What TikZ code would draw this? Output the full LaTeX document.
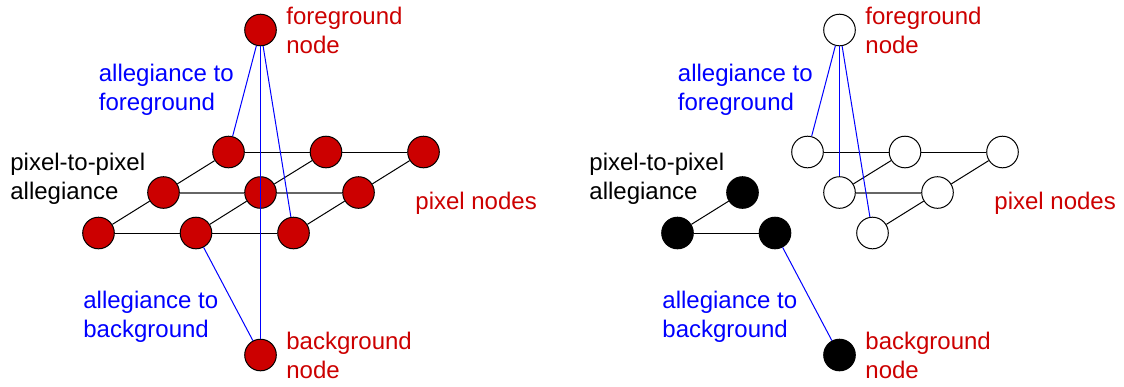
\documentclass[tikz,border=0pt]{standalone}
\usepackage{fontspec}
\setmainfont{Liberation Sans}
\usetikzlibrary{positioning}
\definecolor{nodered}{RGB}{204,0,0}
\definecolor{tieblue}{RGB}{0,0,255}
\tikzset{
	pix/.style={circle, draw=black, line width=0.5pt, minimum size=15.8pt, inner sep=0pt, fill=nodered},
	pixwhite/.style={pix, fill=white},
	pixblack/.style={pix, fill=black},
	link/.style={line width=0.5pt, black},
	midlink/.style={line width=1pt, black!60},
	tie/.style={line width=0.5pt, tieblue},
	txt/.style={anchor=base west, align=left, inner sep=0pt, font=\fontsize{12}{14.3}\selectfont},
	redtxt/.style={txt, text=nodered},
	bluetxt/.style={txt, text=tieblue},
	blacktxt/.style={txt, text=black}
}

\begin{document}
\begin{tikzpicture}[x=0.5pt, y=-0.5pt]
			%%%%% START %%%%%
			\useasboundingbox (0, 0) rectangle (1124, 386);
			
			%%%%% left: full graph %%%%%
			\node[pix] (lfg) at (260.5, 30) {};
			\node[pix] (lbg) at (260.5, 355) {};
			
			\node[pix] (l11) at (228.5, 152) {};
			\node[pix] (l12) at (326, 152) {};
			\node[pix] (l13) at (423.5, 152) {};
			\node[pix] (l21) at (163.5, 192.5) {};
			\node[pix] (l22) at (260.5, 192.5) {};
			\node[pix] (l23) at (358.5, 192.5) {};
			\node[pix] (l31) at (98.5, 233) {};
			\node[pix] (l32) at (196, 233) {};
			\node[pix] (l33) at (293.5, 233) {};
			
			\draw[link] (l11) -- (l12) -- (l13);
			\draw[midlink] (l21) -- (l22) -- (l23);
			\draw[link] (l31) -- (l32) -- (l33);
			\draw[link] (l31) -- (l21) -- (l11);
			\draw[link] (l32) -- (l22) -- (l12);
			\draw[link] (l33) -- (l23) -- (l13);
			
			\draw[tie] (lfg) -- (l11);
			\draw[tie] (lfg) -- (l33);
			\draw[tie] (lfg) -- (lbg);
			\draw[tie] (lbg) -- (l32);
			
			% base west sits on the last line
			\node[redtxt] (lfgtxt) at (286, 53) {foreground\\node};
			\node[bluetxt] (ltofg) at (98.5, 110) {allegiance to\\foreground};
			\node[blacktxt] (lp2p) at (10, 199) {pixel-to-pixel\\allegiance};
			\node[redtxt] (lpixtxt) at (415, 209) {pixel nodes};
			\node[bluetxt] (ltobg) at (83, 337) {allegiance to\\background};
			\node[redtxt] (lbgtxt) at (286, 378) {background\\node};
			
			%%%%% right: after the cut %%%%%
			\begin{scope}[xshift=289.5pt]
				\node[pixwhite] (rfg) at (260.5, 30) {};
				\node[pixblack] (rbg) at (260.5, 355) {};
				
				\node[pixwhite] (r11) at (228.5, 152) {};
				\node[pixwhite] (r12) at (326, 152) {};
				\node[pixwhite] (r13) at (423.5, 152) {};
				\node[pixblack] (r21) at (163.5, 192.5) {};
				\node[pixwhite] (r22) at (260.5, 192.5) {};
				\node[pixwhite] (r23) at (358.5, 192.5) {};
				\node[pixblack] (r31) at (98.5, 233) {};
				\node[pixblack] (r32) at (196, 233) {};
				\node[pixwhite] (r33) at (293.5, 233) {};
				
				\draw[link] (r11) -- (r12) -- (r13);
				\draw[midlink] (r22) -- (r23);
				\draw[link] (r31) -- (r32);
				\draw[link] (r31) -- (r21);
				\draw[link] (r22) -- (r12);
				\draw[link] (r33) -- (r23) -- (r13);
				
				\draw[tie] (rfg) -- (r11);
				\draw[tie] (rfg) -- (r22);
				\draw[tie] (rfg) -- (r33);
				\draw[tie] (rbg) -- (r32);
				
				\node[redtxt] (rfgtxt) at (286, 53) {foreground\\node};
				\node[bluetxt] (rtofg) at (98.5, 110) {allegiance to\\foreground};
				\node[blacktxt] (rp2p) at (10, 199) {pixel-to-pixel\\allegiance};
				\node[redtxt] (rpixtxt) at (415, 209) {pixel nodes};
				\node[bluetxt] (rtobg) at (83, 337) {allegiance to\\background};
				\node[redtxt] (rbgtxt) at (286, 378) {background\\node};
			\end{scope}
			%%%%% END %%%%%
\end{tikzpicture}
\end{document}
